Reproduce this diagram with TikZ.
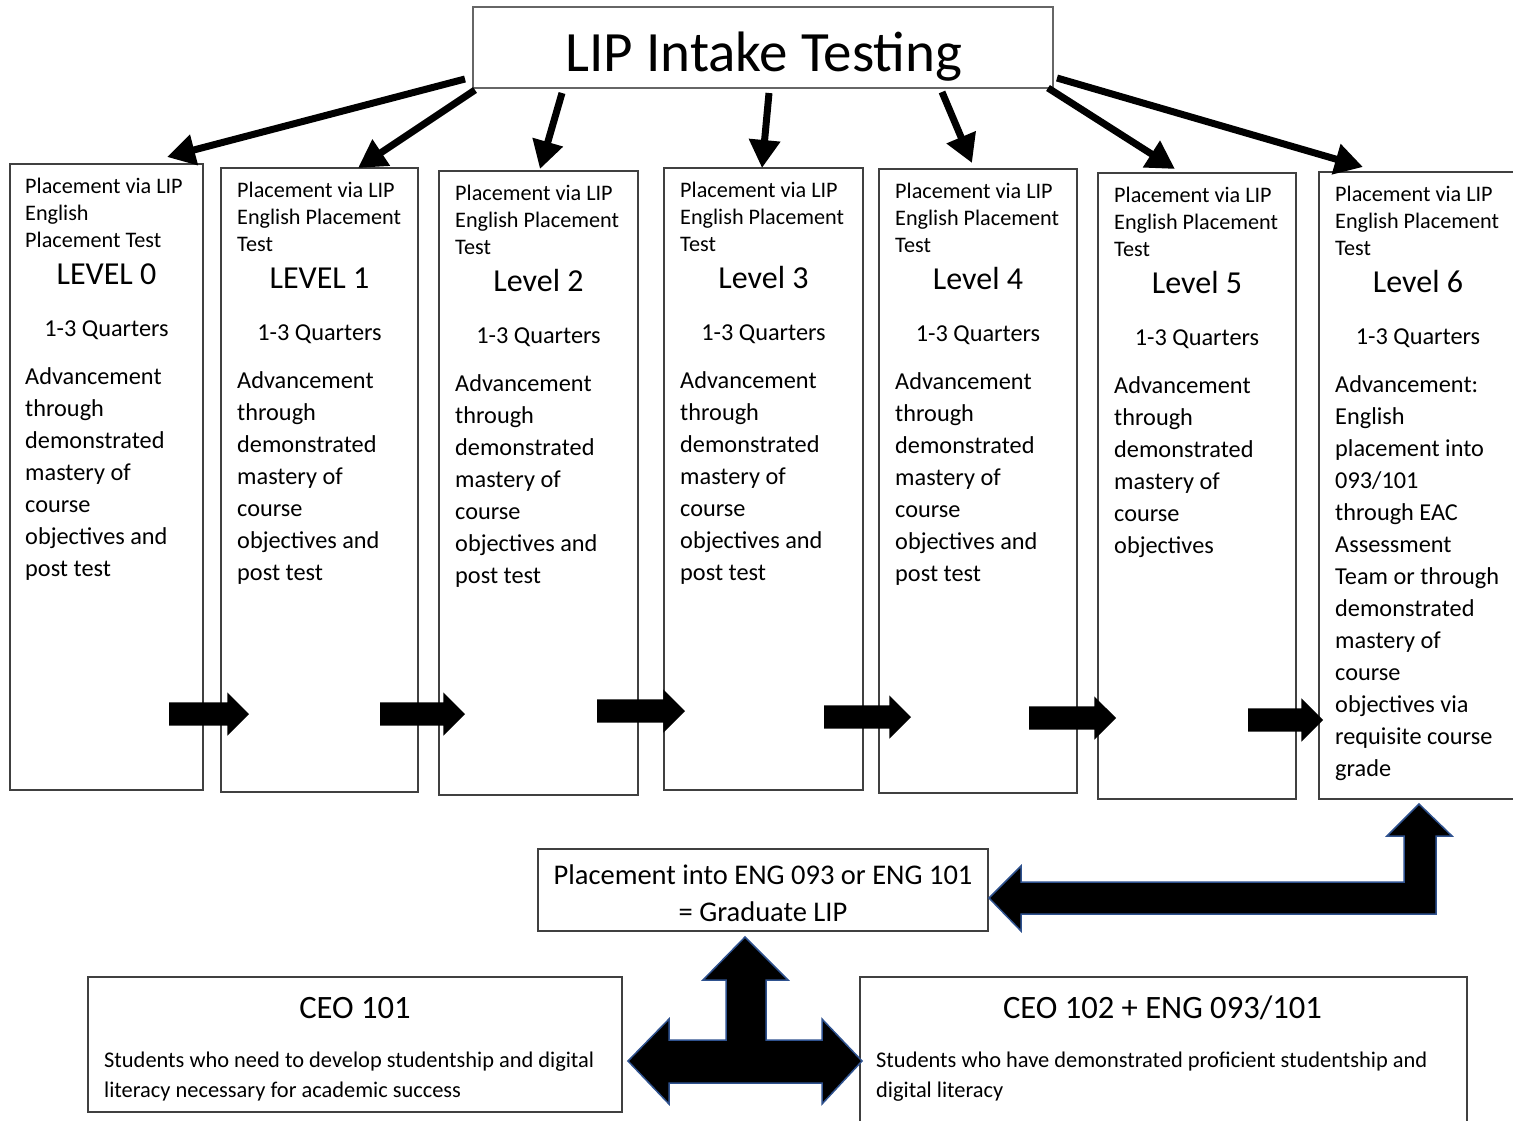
\documentclass[tikz,border=0pt]{standalone}
\usepackage{fontspec}
\setmainfont{Carlito}
\usetikzlibrary{arrows.meta}
\usetikzlibrary{shapes.arrows}

\definecolor{blockline}{RGB}{47,82,143}

\tikzset{
  box/.style={draw=black!75, line width=1.2pt, inner sep=0pt, outer sep=0pt, anchor=north west},
  headtext/.style={font=\fontsize{22.2}{27}\selectfont, anchor=base west, inner sep=0pt, text width=180pt, align=flush left},
  bodytext/.style={font=\fontsize{24.3}{32}\selectfont, anchor=base west, inner sep=0pt, text width=180pt, align=flush left},
  leveltext/.style={font=\fontsize{32}{38}\selectfont, anchor=base, inner sep=0pt},
  qtrtext/.style={font=\fontsize{24.3}{32}\selectfont, anchor=base, inner sep=0pt},
  notetext/.style={font=\fontsize{22.4}{30}\selectfont, anchor=base west, inner sep=0pt, text width=590pt, align=flush left},
  feed/.style={line width=7pt, -{Triangle[length=28pt,width=30pt]}},
  rarrow/.style={single arrow, fill=black, inner xsep=0pt, inner ysep=11.5pt, minimum width=43pt, single arrow head extend=10pt, outer sep=0pt, anchor=tail},
  blockarrow/.style={fill=black, draw=blockline, line width=1.5pt, line join=miter}
}

\begin{document}
\begin{tikzpicture}[x=1pt, y=-1pt]
\useasboundingbox (0,0) rectangle (1513,1120);

\node[box, draw=black!60, minimum width=580pt, minimum height=81pt] (title) at (473,7) {};
\node[font=\fontsize{57}{68}\selectfont, anchor=base, inner sep=0pt] (titletext) at ([shift={(1,64)}]title.north) {LIP Intake Testing};

\node[box, minimum width=193pt, minimum height=626pt] (c0) at (10,164) {};
\node[box, minimum width=197pt, minimum height=624pt] (c1) at (221,168) {};
\node[box, minimum width=199pt, minimum height=624pt] (c2) at (439,171) {};
\node[box, minimum width=199pt, minimum height=622pt] (c3) at (664,168) {};
\node[box, minimum width=198pt, minimum height=624pt] (c4) at (879,169) {};
\node[box, minimum width=198pt, minimum height=626pt] (c5) at (1098,173) {};
\node[box, minimum width=198pt, minimum height=627pt] (c6) at (1319,172) {};

\node[headtext] (h0) at ([shift={(15,29)}]c0.north west) {Placement via LIP\\English\\Placement Test};
\node[leveltext] (l0) at ([shift={(0,120)}]c0.north) {LEVEL 0};
\node[qtrtext] (q0) at ([shift={(0,172)}]c0.north) {1-3 Quarters};
\node[bodytext] (b0) at ([shift={(15,220)}]c0.north west) {Advancement\\through\\demonstrated\\mastery of\\course\\objectives and\\post test};

\node[headtext] (h1) at ([shift={(16,29)}]c1.north west) {Placement via LIP\\English Placement\\Test};
\node[leveltext] (l1) at ([shift={(0,120)}]c1.north) {LEVEL 1};
\node[qtrtext] (q1) at ([shift={(0,172)}]c1.north) {1-3 Quarters};
\node[bodytext] (b1) at ([shift={(16,220)}]c1.north west) {Advancement\\through\\demonstrated\\mastery of\\course\\objectives and\\post test};

\node[headtext] (h2) at ([shift={(16,29)}]c2.north west) {Placement via LIP\\English Placement\\Test};
\node[leveltext] (l2) at ([shift={(0,120)}]c2.north) {Level 2};
\node[qtrtext] (q2) at ([shift={(0,172)}]c2.north) {1-3 Quarters};
\node[bodytext] (b2) at ([shift={(16,220)}]c2.north west) {Advancement\\through\\demonstrated\\mastery of\\course\\objectives and\\post test};

\node[headtext] (h3) at ([shift={(16,29)}]c3.north west) {Placement via LIP\\English Placement\\Test};
\node[leveltext] (l3) at ([shift={(0,120)}]c3.north) {Level 3};
\node[qtrtext] (q3) at ([shift={(0,172)}]c3.north) {1-3 Quarters};
\node[bodytext] (b3) at ([shift={(16,220)}]c3.north west) {Advancement\\through\\demonstrated\\mastery of\\course\\objectives and\\post test};

\node[headtext] (h4) at ([shift={(16,29)}]c4.north west) {Placement via LIP\\English Placement\\Test};
\node[leveltext] (l4) at ([shift={(0,120)}]c4.north) {Level 4};
\node[qtrtext] (q4) at ([shift={(0,172)}]c4.north) {1-3 Quarters};
\node[bodytext] (b4) at ([shift={(16,220)}]c4.north west) {Advancement\\through\\demonstrated\\mastery of\\course\\objectives and\\post test};

\node[headtext] (h5) at ([shift={(16,29)}]c5.north west) {Placement via LIP\\English Placement\\Test};
\node[leveltext] (l5) at ([shift={(0,120)}]c5.north) {Level 5};
\node[qtrtext] (q5) at ([shift={(0,172)}]c5.north) {1-3 Quarters};
\node[bodytext] (b5) at ([shift={(16,220)}]c5.north west) {Advancement\\through\\demonstrated\\mastery of\\course\\objectives};

\node[headtext] (h6) at ([shift={(16,29)}]c6.north west) {Placement via LIP\\English Placement\\Test};
\node[leveltext] (l6) at ([shift={(0,120)}]c6.north) {Level 6};
\node[qtrtext] (q6) at ([shift={(0,172)}]c6.north) {1-3 Quarters};
\node[bodytext] (b6) at ([shift={(16,220)}]c6.north west) {Advancement:\\English\\placement into\\093/101\\through EAC\\Assessment\\Team or through\\demonstrated\\mastery of\\course\\objectives via\\requisite course\\grade};

\draw[feed] ([shift={(-8,-9)}]title.south west) -- ([shift={(60.5,-7)}]c0.north);
\draw[feed] ([shift={(2,2)}]title.south west) -- ([shift={(38.5,0)}]c1.north);
\draw[feed] ([shift={(89,5)}]title.south west) -- ([shift={(1.5,-2)}]c2.north);
\draw[feed] ([shift={(6,5)}]title.south) -- ([shift={(-1.5,0)}]c3.north);
\draw[feed] ([shift={(-111,4)}]title.south east) -- ([shift={(-6,-6)}]c4.north);
\draw[feed] ([shift={(-5,0)}]title.south east) -- ([shift={(-22,-4)}]c5.north);
\draw[feed] ([shift={(4,-10)}]title.south east) -- ([shift={(-55,-5)}]c6.north);

\node[rarrow, minimum height=80pt] (r0) at (169,714) {};
\node[rarrow, minimum height=85pt] (r1) at (380,714) {};
\node[rarrow, minimum height=88pt] (r2) at (597,711) {};
\node[rarrow, minimum height=87pt] (r3) at (824,717) {};
\node[rarrow, minimum height=87pt] (r4) at (1029,718) {};
\node[rarrow, minimum height=75pt] (r5) at (1248,720) {};

\node[box, minimum width=450pt, minimum height=82pt] (grad) at (538,849) {};
\node[anchor=base, inner sep=0pt, text width=450pt, align=flush center, font=\fontsize{28.5}{37}\selectfont] (gradtext) at ([shift={(0,35)}]grad.north) {Placement into ENG 093 or ENG 101\\= Graduate LIP};

\node[box, minimum width=534pt, minimum height=135pt] (ceo1) at (88,977) {};
\node[font=\fontsize{32.6}{38}\selectfont, anchor=base, inner sep=0pt] (ceo1title) at ([shift={(0,41)}]ceo1.north) {CEO 101};
\node[notetext] (ceo1text) at ([shift={(16,90)}]ceo1.north west) {Students who need to develop studentship and digital\\literacy necessary for academic success};

\node[box, minimum width=607pt, minimum height=170pt] (ceo2) at (860,977) {};
\node[font=\fontsize{32.6}{38}\selectfont, anchor=base, inner sep=0pt] (ceo2title) at ([shift={(-1,41)}]ceo2.north) {CEO 102 + ENG 093/101};
\node[notetext] (ceo2text) at ([shift={(16,90)}]ceo2.north west) {Students who have demonstrated proficient studentship and\\digital literacy};

\filldraw[blockarrow] (989,898) -- (1021,866) -- (1021,882) -- (1404,882) -- (1404,836) -- (1387,836) -- (1419,804) -- (1452,836) -- (1436,836) -- (1436,914) -- (1021,914) -- (1021,931) -- cycle;

\filldraw[blockarrow] (745,937) -- (788,980) -- (766,980) -- (766,1040) -- (822,1040) -- (822,1019) -- (862,1061) -- (822,1104) -- (822,1083) -- (669,1083) -- (669,1104) -- (628,1061) -- (669,1019) -- (669,1040) -- (726,1040) -- (726,980) -- (703,980) -- cycle;
\end{tikzpicture}
\end{document}
